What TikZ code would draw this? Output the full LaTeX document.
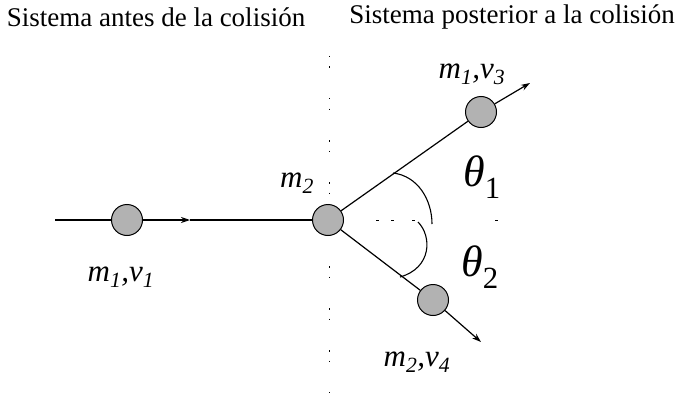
\documentclass[tikz,border=0pt]{standalone}
\usepackage{fontspec}
\setmainfont{Liberation Serif}
\usetikzlibrary{arrows.meta,decorations.markings}
\tikzset{
  ball/.style={circle,draw=black,line width=1pt,fill=gray!60,minimum size=31pt,inner sep=0pt},
  path/.style={line width=1.2pt},
  tip/.style={-{Stealth[length=9pt,width=6pt]}},
  lbl/.style={font=\fontsize{31}{31}\selectfont\itshape,inner sep=0pt},
  ttl/.style={font=\fontsize{27}{27}\selectfont,inner sep=0pt},
  ang/.style={font=\fontsize{44}{44}\selectfont\itshape,inner sep=0pt},
  guide/.style={line width=1pt,dash pattern=on 1.5pt off 9pt on 1.5pt off 30pt},
}
\begin{document}
\begin{tikzpicture}[x=1pt,y=-1pt]
\useasboundingbox (0,0) rectangle (676,393);
% titles
\node[ttl] (t1) at (156,17) {Sistema antes de la colisión};
\node[ttl] (t2) at (512,17) {Sistema posterior a la colisión};
% guide lines
\coordinate (vtop) at (329,56);
\coordinate (vbot) at (329,393);
\draw[guide] (vtop) -- (vbot);
\coordinate (hs) at (376,220);
\coordinate (he) at (506,220);
\draw[line width=1pt,dash pattern=on 3pt off 12pt on 3pt off 18pt on 3pt off 80pt on 3pt off 10pt] (hs) -- (he);
% balls
\node[ball] (b1) at (127,220) {};
\node[ball] (b2) at (328,220) {};
\node[ball] (b3) at (481,112) {};
\node[ball] (b4) at (433,300) {};
\coordinate (start) at (55,220);
\coordinate (mid) at (190,220);
\coordinate (e3) at (530,83);
\coordinate (e4) at (481,342);
\draw[path] (start) -- (b1);
\draw[path,tip] (b1) -- (mid);
\draw[path] (mid) -- (b2);
\draw[path] (b2) -- (b3);
\draw[path,tip] (b3) -- (e3);
\draw[path] (b2) -- (b4);
\draw[path,tip] (b4) -- (e4);
% angle arcs
\coordinate (a1s) at (393,173);
\coordinate (a1e) at (432,224);
\draw[line width=1.1pt] (a1s) .. controls (418,176) and (432,200) .. (a1e);
\coordinate (a2s) at (418,222);
\coordinate (a2e) at (400,277);
\draw[line width=1.1pt] (a2s) .. controls (432,236) and (432,268) .. (a2e);
% labels
\node[lbl] (l3) at (472,74) {m\textsubscript{1},v\textsubscript{3}};
\node[lbl] (l2) at (297,183) {m\textsubscript{2}};
\node[lbl] (l1) at (121,277) {m\textsubscript{1},v\textsubscript{1}};
\node[lbl] (l4) at (417,362) {m\textsubscript{2},v\textsubscript{4}};
\node[ang] (th1) at (482,177) {θ\textsubscript{\upshape 1}};
\node[ang] (th2) at (480,267) {θ\textsubscript{\upshape 2}};
\end{tikzpicture}
\end{document}
